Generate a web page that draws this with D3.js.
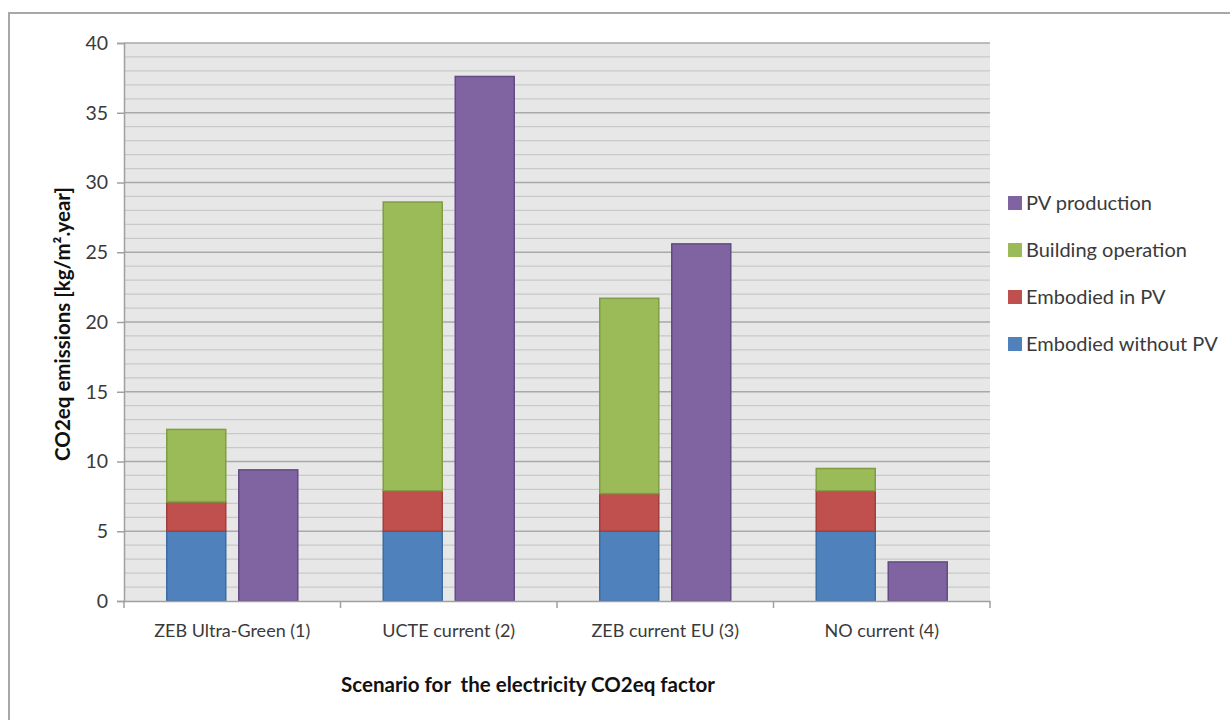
<!DOCTYPE html>
<html><head><meta charset="utf-8">
<script src="https://cdn.jsdelivr.net/npm/d3@7"></script>
<style>body{margin:0;background:#fff;}svg{display:block;font-family:Lato,"Open Sans",sans-serif;}</style>
</head><body>
<svg id="c" width="1230" height="720"></svg>
<script>
const categories = ["ZEB Ultra-Green (1)", "UCTE current (2)", "ZEB current EU (3)", "NO current (4)"];
const embodiedWithoutPV = [5.0, 5.0, 5.0, 5.0];
const embodiedInPV = [2.1, 2.9, 2.7, 2.9];
const buildingOperation = [5.2, 20.7, 14.0, 1.6];
const pvProduction = [9.4, 37.6, 25.6, 2.8];
const yTicks = [0, 5, 10, 15, 20, 25, 30, 35, 40];
const legendLabels = ["PV production", "Building operation", "Embodied in PV", "Embodied without PV"];

const svg = d3.select("#c");
const L = 124, R = 990, T = 43, B = 601;

// outer frame
svg.append("rect").attr("x", 9).attr("y", 13).attr("width", 1240).attr("height", 720)
  .attr("fill", "#fff").attr("stroke", "#a8a8a8").attr("stroke-width", 2);

const x = d3.scaleBand().domain(categories).range([L, R]);
const y = d3.scaleLinear().domain([0, 40]).range([B, T]);

// plot background
svg.append("rect").attr("x", L).attr("y", T).attr("width", R - L).attr("height", B - T).attr("fill", "#e7e7e7");

// minor gridlines
const minor = d3.range(1, 40).filter(v => v % 5 !== 0);
svg.append("g").selectAll("line").data(minor).join("line")
  .attr("x1", L).attr("x2", R).attr("y1", d => y(d)).attr("y2", d => y(d))
  .attr("stroke", "#c9c9c9").attr("stroke-width", 1.3);
// major gridlines
svg.append("g").selectAll("line").data(yTicks.filter(v => v > 0)).join("line")
  .attr("x1", L).attr("x2", R).attr("y1", d => y(d)).attr("y2", d => y(d))
  .attr("stroke", "#a9a9a9").attr("stroke-width", 1.5);

// stacked bars
const stackData = categories.map((c, i) => ({cat: c, a: embodiedWithoutPV[i], b: embodiedInPV[i], c2: buildingOperation[i]}));
const stack = d3.stack().keys(["a", "b", "c2"])(stackData);
const fills = {a: "#4f81bd", b: "#c0504d", c2: "#9bbb59"};
const strokes = {a: "#3d6ca3", b: "#a13f3c", c2: "#7f9d45"};
const bw = 59, gap = 13;
const gx = c => x(c) + x.bandwidth() / 2;

stack.forEach(layer => {
  svg.append("g").selectAll("rect").data(layer).join("rect")
    .attr("x", d => gx(d.data.cat) - gap / 2 - bw)
    .attr("width", bw)
    .attr("y", d => y(d[1]))
    .attr("height", d => y(d[0]) - y(d[1]))
    .attr("fill", fills[layer.key]).attr("stroke", strokes[layer.key]).attr("stroke-width", 1.5);
});
svg.append("g").selectAll("rect").data(categories).join("rect")
  .attr("x", d => gx(d) + gap / 2).attr("width", bw)
  .attr("y", (d, i) => y(pvProduction[i]))
  .attr("height", (d, i) => y(0) - y(pvProduction[i]))
  .attr("fill", "#8064a2").attr("stroke", "#634b83").attr("stroke-width", 1.5);

// y axis
const yAxis = svg.append("g").attr("transform", `translate(${L},0)`)
  .call(d3.axisLeft(y).tickValues(yTicks).tickSize(7).tickPadding(9));
yAxis.select(".domain").attr("stroke", "#a0a0a0").attr("stroke-width", 1.5);
yAxis.selectAll(".tick line").attr("stroke", "#a0a0a0").attr("stroke-width", 1.5);
yAxis.selectAll("text").attr("font-size", 19.5).attr("fill", "#3a3a3a").attr("font-family", "Lato, sans-serif");

// x axis
const xAxis = svg.append("g").attr("transform", `translate(0,${B})`)
  .call(d3.axisBottom(x).tickSize(0).tickPadding(23));
xAxis.select(".domain").attr("stroke", "#a0a0a0").attr("stroke-width", 1.5);
xAxis.selectAll("text").attr("font-size", 18).attr("fill", "#3a3a3a").attr("font-family", "Lato, sans-serif");
// category boundary ticks
svg.append("g").selectAll("line").data(categories.concat([null])).join("line")
  .attr("x1", (d, i) => i < categories.length ? x(d) : R)
  .attr("x2", (d, i) => i < categories.length ? x(d) : R)
  .attr("y1", B).attr("y2", B + 7).attr("stroke", "#a0a0a0").attr("stroke-width", 1.5);

// axis titles
svg.append("text").attr("x", 528).attr("y", 692).attr("text-anchor", "middle")
  .attr("font-size", 20.5).attr("font-weight", "bold").attr("fill", "#111")
  .style("white-space", "pre").text("Scenario for  the electricity CO2eq factor");
svg.append("text").attr("transform", "translate(70,324) rotate(-90)").attr("text-anchor", "middle")
  .attr("font-size", 20.5).attr("font-weight", "bold").attr("fill", "#111")
  .text("CO2eq emissions [kg/m².year]");

// legend
const legColors = ["#8064a2", "#9bbb59", "#c0504d", "#4f81bd"];
const leg = svg.append("g");
legendLabels.forEach((t, i) => {
  const cy = 203 + i * 47;
  leg.append("rect").attr("x", 1008).attr("y", cy - 7).attr("width", 14).attr("height", 14).attr("fill", legColors[i]);
  leg.append("text").attr("x", 1026).attr("y", cy + 7).attr("font-size", 20).attr("fill", "#3a3a3a").text(t);
});
</script>
</body></html>
